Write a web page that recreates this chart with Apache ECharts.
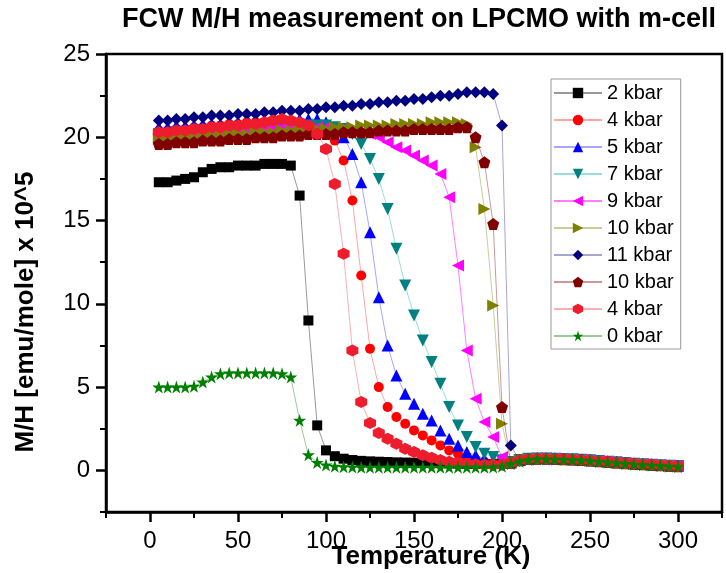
<!DOCTYPE html>
<html><head><meta charset="utf-8">
<script src="https://cdn.jsdelivr.net/npm/echarts@6/dist/echarts.min.js"></script>
<style>html,body{margin:0;padding:0;background:#fff}#c{width:726px;height:573px}</style>
</head><body><div id="c"></div>
<script>
// Temperature (K)
const temps = [5,10,15,20,25,30,35,40,45,50,55,60,65,70,75,80,85,90,95,100,
  105,110,115,120,125,130,135,140,145,150,155,160,165,170,175,180,185,190,195,200,
  205,210,215,220,225,230,235,240,245,250,255,260,265,270,275,280,285,290,295,300];

// M/H [emu/mole] x 10^5 for each pressure run
const kbar2 = [17.3,17.3,17.4,17.5,17.6,17.9,18.1,18.2,18.2,18.3,18.3,18.3,18.4,18.4,18.4,18.3,16.5,9.0,2.7,1.2,
  0.85,0.70,0.62,0.57,0.54,0.52,0.50,0.48,0.47,0.46,0.45,0.44,0.43,0.42,0.41,0.40,0.39,0.38,0.38,0.40,
  0.48,0.60,0.68,0.71,0.71,0.70,0.68,0.66,0.63,0.60,0.56,0.52,0.48,0.44,0.40,0.37,0.34,0.31,0.28,0.26];
const kbar4a = [20.4,20.4,20.5,20.5,20.6,20.6,20.7,20.7,20.8,20.8,20.9,20.9,20.9,21.0,21.0,20.9,20.8,20.6,20.4,20.2,
  19.8,18.6,16.2,11.7,7.3,5.0,3.8,3.2,2.8,2.4,2.1,1.8,1.5,1.2,1.0,0.8,0.65,0.52,0.44,0.40,
  0.46,0.61,0.69,0.71,0.71,0.70,0.68,0.66,0.63,0.60,0.56,0.52,0.48,0.44,0.40,0.37,0.34,0.31,0.28,0.26];
const kbar5 = [20.6,20.6,20.7,20.7,20.7,20.8,20.8,20.8,20.9,20.9,20.9,21.0,21.0,21.0,21.0,21.1,21.1,21.1,21.1,20.9,
  20.5,20.0,19.0,17.3,14.3,10.4,7.5,5.7,4.6,4.0,3.4,3.0,2.4,1.9,1.5,1.1,0.9,0.7,0.55,0.45,
  0.47,0.62,0.70,0.72,0.72,0.71,0.69,0.67,0.64,0.61,0.57,0.53,0.49,0.45,0.41,0.38,0.35,0.32,0.29,0.27];
const kbar7 = [20.2,20.2,20.3,20.3,20.3,20.4,20.4,20.4,20.5,20.5,20.5,20.6,20.6,20.6,20.6,20.7,20.7,20.7,20.7,20.7,
  20.6,20.5,20.2,19.6,18.7,17.5,15.7,13.3,11.1,9.3,7.8,6.5,5.2,3.8,2.7,2.0,1.4,1.0,0.8,0.6,
  0.50,0.62,0.69,0.71,0.71,0.70,0.68,0.66,0.63,0.60,0.56,0.52,0.48,0.44,0.40,0.37,0.34,0.31,0.28,0.26];
const kbar9 = [20.2,20.2,20.3,20.3,20.3,20.4,20.4,20.4,20.5,20.5,20.5,20.5,20.6,20.6,20.6,20.6,20.6,20.6,20.6,20.6,
  20.5,20.5,20.4,20.3,20.2,20.0,19.7,19.4,19.2,18.9,18.6,18.3,17.8,16.4,12.3,7.2,4.3,2.9,2.0,0.8,
  0.50,0.62,0.70,0.72,0.72,0.71,0.69,0.67,0.64,0.61,0.57,0.53,0.49,0.45,0.41,0.38,0.35,0.32,0.29,0.27];
const kbar10a = [19.9,19.9,20.0,20.0,20.0,20.1,20.1,20.1,20.2,20.2,20.2,20.3,20.3,20.3,20.4,20.4,20.4,20.5,20.5,20.5,
  20.6,20.6,20.6,20.7,20.7,20.7,20.7,20.8,20.8,20.8,20.8,20.9,20.9,20.9,20.9,20.8,19.4,15.7,9.9,2.8,
  0.45,0.60,0.68,0.70,0.70,0.69,0.67,0.65,0.62,0.59,0.55,0.51,0.47,0.43,0.39,0.36,0.33,0.30,0.27,0.25];
const kbar11 = [21.0,21.0,21.1,21.1,21.2,21.2,21.3,21.3,21.3,21.4,21.4,21.4,21.5,21.5,21.6,21.6,21.6,21.7,21.7,21.8,
  21.8,21.9,21.9,22.0,22.0,22.1,22.1,22.2,22.2,22.3,22.3,22.4,22.5,22.5,22.6,22.7,22.7,22.7,22.6,20.7,
  1.5,0.58,0.69,0.71,0.71,0.70,0.68,0.66,0.63,0.60,0.56,0.52,0.48,0.44,0.40,0.37,0.34,0.31,0.28,0.26];
const kbar10b = [19.6,19.6,19.7,19.7,19.7,19.8,19.8,19.8,19.9,19.9,19.9,20.0,20.0,20.0,20.1,20.1,20.1,20.2,20.2,20.2,
  20.2,20.3,20.3,20.3,20.3,20.4,20.4,20.4,20.4,20.5,20.5,20.5,20.5,20.5,20.6,20.6,20.0,18.5,14.8,3.8,
  0.45,0.60,0.68,0.70,0.70,0.69,0.67,0.65,0.62,0.59,0.55,0.51,0.47,0.43,0.39,0.36,0.33,0.30,0.27,0.25];
const kbar4b = [20.3,20.3,20.4,20.4,20.5,20.5,20.6,20.6,20.7,20.7,20.8,20.8,20.9,21.0,21.1,21.0,20.9,20.7,20.2,19.3,
  17.2,13.0,7.2,4.1,2.85,2.25,1.9,1.6,1.3,1.1,0.9,0.75,0.62,0.52,0.45,0.40,0.36,0.33,0.32,0.34,
  0.45,0.60,0.68,0.70,0.70,0.69,0.67,0.65,0.62,0.59,0.55,0.51,0.47,0.43,0.39,0.36,0.33,0.30,0.27,0.25];
const kbar0 = [5.0,5.0,5.0,5.0,5.05,5.3,5.6,5.8,5.85,5.85,5.85,5.85,5.85,5.85,5.8,5.6,3.0,0.93,0.47,0.32,
  0.25,0.22,0.20,0.19,0.19,0.18,0.18,0.18,0.18,0.18,0.18,0.18,0.18,0.18,0.18,0.18,0.18,0.19,0.20,0.25,
  0.40,0.55,0.64,0.68,0.68,0.67,0.65,0.63,0.60,0.57,0.53,0.49,0.45,0.41,0.37,0.34,0.31,0.28,0.25,0.23];

const seriesLabels = ['2 kbar','4 kbar','5 kbar','7 kbar','9 kbar','10 kbar','11 kbar','10 kbar','4 kbar','0 kbar'];
const seriesValues = [kbar2,kbar4a,kbar5,kbar7,kbar9,kbar10a,kbar11,kbar10b,kbar4b,kbar0];

const xTickValues = [0,50,100,150,200,250,300];
const xMinorTickValues = [-25,25,75,125,175,225,275,325];
const yTickValues = [0,5,10,15,20,25];
const yMinorTickValues = [-2.5,2.5,7.5,12.5,17.5,22.5];

const titleText = 'FCW M/H measurement on LPCMO with m-cell';
const xTitle = 'Temperature (K)';
const yTitle = 'M/H [emu/mole] x 10^5';

// styles
const FONT = "'Liberation Sans', Arial, sans-serif";
const P_DOWN = 'path://M0,0 L100,0 L50,87 Z';
const P_LEFT = 'path://M0,50 L87,0 L87,100 Z';
const P_RIGHT = 'path://M87,50 L0,0 L0,100 Z';
const P_PENT = 'path://M50,0 L97.6,34.5 L79.4,90.5 L20.6,90.5 L2.4,34.5 Z';
const P_HEX = 'path://M50,0 L93.3,25 L93.3,75 L50,100 L6.7,75 L6.7,25 Z';
const P_STAR = 'path://M50,0 L61.23,34.55 L97.55,34.55 L68.16,55.9 L79.39,90.45 L50,69.1 L20.61,90.45 L31.84,55.9 L2.45,34.55 L38.77,34.55 Z';
const styles = [
  {sym:'rect', size:10, color:'#000000', line:'rgba(0,0,0,0.4)'},
  {sym:'circle', size:10, color:'#ff0000', line:'rgba(255,0,0,0.35)'},
  {sym:'triangle', size:12, color:'#0000ff', line:'rgba(0,0,255,0.35)'},
  {sym:P_DOWN, size:12, color:'#008080', line:'rgba(0,170,170,0.4)'},
  {sym:P_LEFT, size:12, color:'#ff00ff', line:'rgba(255,0,255,0.5)'},
  {sym:P_RIGHT, size:12, color:'#808000', line:'rgba(128,128,0,0.4)'},
  {sym:'diamond', size:12, color:'#000080', line:'rgba(0,0,128,0.35)'},
  {sym:P_PENT, size:12, color:'#800000', line:'rgba(128,0,0,0.4)'},
  {sym:P_HEX, size:12, color:'#ee1c2c', line:'rgba(238,28,44,0.35)'},
  {sym:P_STAR, size:13, color:'#008000', line:'rgba(0,128,0,0.4)'}
];

const ids = seriesLabels.map((l,i)=>'s'+i);
const series = seriesValues.map((vals,i)=>({
  name: ids[i],
  type: 'line',
  xAxisIndex: 0, yAxisIndex: 0,
  data: temps.map((t,j)=>[t, vals[j]]),
  symbol: styles[i].sym,
  symbolSize: styles[i].size,
  itemStyle: {color: styles[i].color},
  lineStyle: {color: styles[i].line, width: 1},
  emphasis: {disabled: true},
  z: 2 + i
}));

const chart = echarts.init(document.getElementById('c'), null, {renderer:'canvas'});
chart.setOption({
  animation: false,
  backgroundColor: '#fff',
  grid: {left:106, right:4, top:54, bottom:61, show:true, borderColor:'#000', borderWidth:2.5, backgroundColor:'transparent'},
  xAxis: [
    {type:'value', position:'bottom', min:-25, max:325,
     axisLine:{show:true, onZero:false, lineStyle:{color:'#000', width:2.5}},
     axisTick:{show:true, customValues:xTickValues, length:10, lineStyle:{color:'#000', width:2.5}},
     axisLabel:{customValues:xTickValues, fontSize:24, color:'#000', fontFamily:FONT, margin:17},
     splitLine:{show:false}},
    {type:'value', position:'bottom', min:-25, max:325,
     axisLine:{show:false, onZero:false},
     axisTick:{show:true, customValues:xMinorTickValues, length:6, lineStyle:{color:'#000', width:2}},
     axisLabel:{show:false}, splitLine:{show:false}}
  ],
  yAxis: [
    {type:'value', position:'left', min:-2.5, max:25,
     axisLine:{show:true, onZero:false, lineStyle:{color:'#000', width:2.5}},
     axisTick:{show:true, customValues:yTickValues, length:10, lineStyle:{color:'#000', width:2.5}},
     axisLabel:{customValues:yTickValues, fontSize:24, color:'#000', fontFamily:FONT, margin:16},
     splitLine:{show:false}},
    {type:'value', position:'left', min:-2.5, max:25,
     axisLine:{show:false, onZero:false},
     axisTick:{show:true, customValues:yMinorTickValues, length:6, lineStyle:{color:'#000', width:2}},
     axisLabel:{show:false}, splitLine:{show:false}}
  ],
  legend: {
    orient:'vertical', left:551, top:79,
    data: ids,
    formatter: (name)=>seriesLabels[ids.indexOf(name)],
    itemWidth:48, itemHeight:13, itemGap:7,
    padding:[4,7,3,2],
    borderColor:'#999', borderWidth:1, backgroundColor:'#fff',
    textStyle:{fontSize:20, color:'#000', fontFamily:FONT},
    selectedMode:false
  },
  graphic: [
    {type:'text', x:419, y:20, style:{text:titleText, font:"bold 27px 'Liberation Sans', Arial, sans-serif", fill:'#000', textAlign:'center', textVerticalAlign:'middle'}},
    {type:'text', x:431, y:557, style:{text:xTitle, font:"bold 26px 'Liberation Sans', Arial, sans-serif", fill:'#000', textAlign:'center', textVerticalAlign:'middle'}},
    {type:'text', x:26, y:312, rotation:Math.PI/2, style:{text:yTitle, font:"bold 26px 'Liberation Sans', Arial, sans-serif", fill:'#000', textAlign:'center', textVerticalAlign:'middle'}}
  ],
  series: series
});
</script>
</body></html>
